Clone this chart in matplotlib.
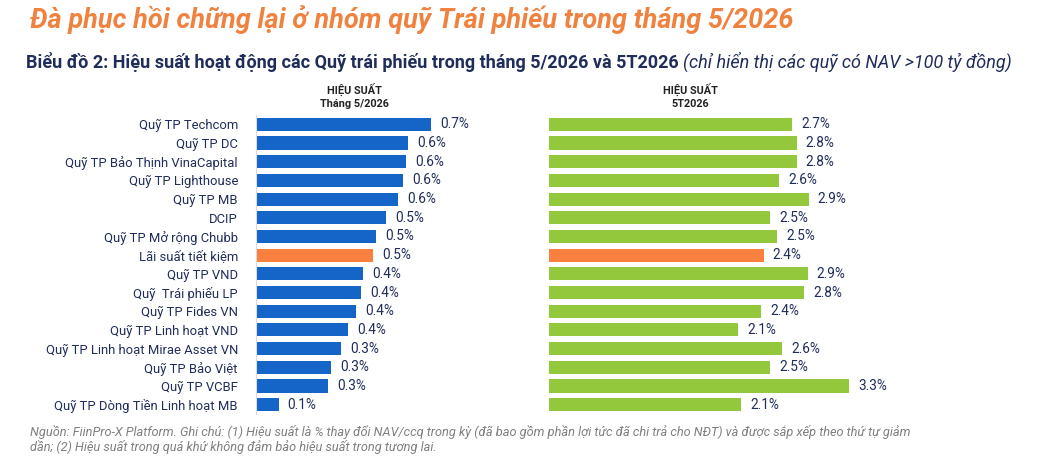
import matplotlib
matplotlib.use("Agg")
import matplotlib.pyplot as plt

plt.rcParams["font.family"] = ["Roboto", "DejaVu Sans"]

FUNDS = [
    "Quỹ TP Techcom", "Quỹ TP DC", "Quỹ TP Bảo Thịnh VinaCapital", "Quỹ TP Lighthouse",
    "Quỹ TP MB", "DCIP", "Quỹ TP Mở rộng Chubb", "Lãi suất tiết kiệm", "Quỹ TP VND",
    "Quỹ  Trái phiếu LP", "Quỹ TP Fides VN", "Quỹ TP Linh hoạt VND",
    "Quỹ TP Linh hoạt Mirae Asset VN", "Quỹ TP Bảo Việt", "Quỹ TP VCBF",
    "Quỹ TP Dòng Tiền Linh hoạt MB",
]
PERF_MONTH = [0.70, 0.61, 0.60, 0.59, 0.57, 0.52, 0.48, 0.47, 0.43, 0.42, 0.40,
              0.37, 0.34, 0.30, 0.29, 0.09]
PERF_YTD = [2.71, 2.76, 2.76, 2.56, 2.89, 2.46, 2.54, 2.39, 2.88, 2.84, 2.36,
            2.11, 2.60, 2.46, 3.34, 2.14]
SAVINGS = "Lãi suất tiết kiệm"

NAVY = "#1F2D5A"
BLUE = "#1565C8"
GREEN = "#93C83C"
ORANGE = "#F9803F"

W, H = 1048, 465
fig = plt.figure(figsize=(W / 100, H / 100), dpi=100)
fig.patch.set_facecolor("white")

def fx(px):
    return px / W

def fy(py):
    return 1 - py / H

# titles
fig.text(fx(30), fy(20), "Đà phục hồi chững lại ở nhóm quỹ Trái phiếu trong tháng 5/2026",
         fontsize=19.5, fontweight="bold", style="italic", color="#F08240",
         ha="left", va="center")
t1 = fig.text(fx(26), fy(62),
              "Biểu đồ 2: Hiệu suất hoạt động các Quỹ trái phiếu trong tháng 5/2026 và 5T2026",
              fontsize=13, fontweight="bold", color=NAVY, ha="left", va="center")
fig.canvas.draw()
bb = t1.get_window_extent()
fig.text(bb.x1 / W + fx(4), fy(62), "(chỉ hiển thị các quỹ có NAV >100 tỷ đồng)",
         fontsize=13, style="italic", color=NAVY, ha="left", va="center")

# column headers
for cx, sub in [(354, "Tháng 5/2026"), (690, "5T2026")]:
    fig.text(fx(cx), fy(89), "HIỆU SUẤT", fontsize=7.8, fontweight="bold",
             color="#222222", ha="center", va="center")
    fig.text(fx(cx), fy(104), sub, fontsize=7.8, fontweight="bold",
             color="#222222", ha="center", va="center")

row_top, row_bot = 115, 414
ax1 = fig.add_axes([fx(256), fy(row_bot), fx(520 - 256), (row_bot - row_top) / H])
ax2 = fig.add_axes([fx(549), fy(row_bot), fx(1040 - 549), (row_bot - row_top) / H])

ypos = list(range(len(FUNDS)))
for ax, vals, other, scale in [(ax1, PERF_MONTH, BLUE, 250.0), (ax2, PERF_YTD, GREEN, 89.8)]:
    colors = [ORANGE if f == SAVINGS else other for f in FUNDS]
    ax.barh(ypos, vals, height=0.7, color=colors)
    ax.set_ylim(len(FUNDS) - 0.5, -0.5)
    width_px = ax.get_position().width * W
    ax.set_xlim(0, width_px / scale)
    for y, v in zip(ypos, vals):
        ax.text(v + 9 / scale, y, f"{v:.1f}%", fontsize=9.8, color=NAVY,
                ha="left", va="center")
    ax.set_xticks([])
    for s in ["top", "right", "bottom", "left"]:
        ax.spines[s].set_visible(False)
    ax.set_facecolor("none")

ax1.spines["left"].set_visible(True)
ax1.spines["left"].set_color("#D9D9D9")
ax1.spines["left"].set_linewidth(0.8)
ax1.set_yticks(ypos)
ax1.set_yticklabels(FUNDS, fontsize=9.4, color=NAVY)
ax1.tick_params(axis="y", length=0, pad=13)
ax2.set_yticks([])

# footnote
fig.text(fx(30), fy(432),
         "Nguồn: FiinPro-X Platform. Ghi chú: (1) Hiệu suất là % thay đổi NAV/ccq trong kỳ "
         "(đã bao gồm phần lợi tức đã chi trả cho NĐT) và được sắp xếp theo thứ tự giảm",
         fontsize=9.15, style="italic", color="#7F7F7F", ha="left", va="center")
fig.text(fx(30), fy(447),
         "dần; (2) Hiệu suất trong quá khứ không đảm bảo hiệu suất trong tương lai.",
         fontsize=9.15, style="italic", color="#7F7F7F", ha="left", va="center")

fig.savefig("out.png", dpi=100, facecolor="white")
